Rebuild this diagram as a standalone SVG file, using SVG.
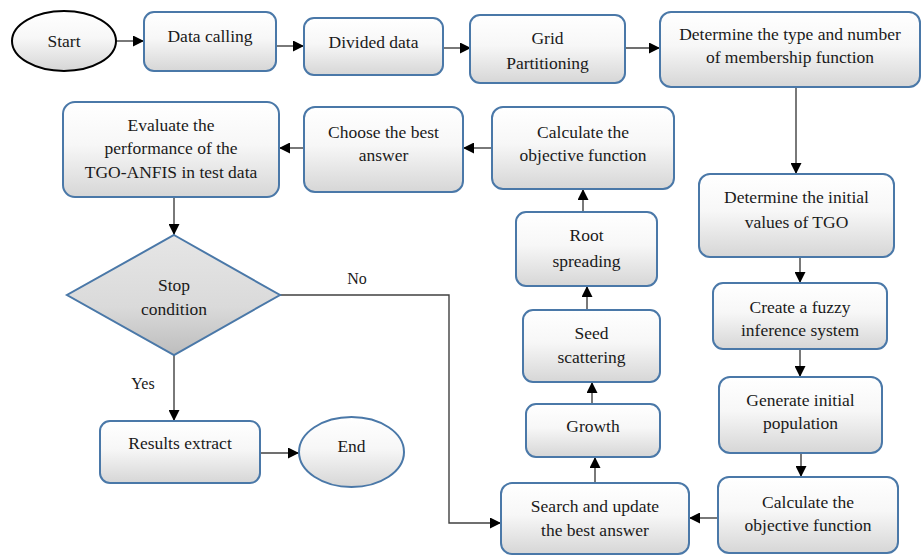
<svg xmlns="http://www.w3.org/2000/svg" width="922" height="556" viewBox="0 0 922 556">
  <defs>
    <linearGradient id="boxFill" x1="0" y1="0" x2="0" y2="1">
      <stop offset="0" stop-color="#ffffff"/>
      <stop offset="0.45" stop-color="#f7f7f7"/>
      <stop offset="1" stop-color="#d6d6d6"/>
    </linearGradient>
    <linearGradient id="diamondFill" x1="0" y1="0" x2="0" y2="1">
      <stop offset="0" stop-color="#e6e6e6"/>
      <stop offset="0.6" stop-color="#dadada"/>
      <stop offset="1" stop-color="#bdbdbd"/>
    </linearGradient>
    <marker id="arrow" viewBox="0 0 10 10" refX="10" refY="5" markerWidth="11" markerHeight="11" markerUnits="userSpaceOnUse" orient="auto">
      <path d="M0,0 L10,5 L0,10 Z" fill="#000"/>
    </marker>
  </defs>
  <style>
    .box { fill: url(#boxFill); stroke: #4a78a8; stroke-width: 2; }
    .dia { fill: url(#diamondFill); stroke: #4a78a8; stroke-width: 2; }
    .term { fill: url(#boxFill); stroke: #000; stroke-width: 2; }
    .termb { fill: url(#boxFill); stroke: #4a78a8; stroke-width: 2; }
    .lbl { font-size: 17.5px; fill: #1a1a1a; text-anchor: middle; }
    .small { font-size: 16px; }
    .conn path { fill: none; stroke: #404040; stroke-width: 1.4; marker-end: url(#arrow); }
  </style>

  <rect width="922" height="556" fill="#fff"/>

  <!-- connectors -->
  <g class="conn">
    <path d="M116,41 H144"/>
    <path d="M276,46 H304"/>
    <path d="M443,48 H471"/>
    <path d="M625,48 H660"/>
    <path d="M796,87 V174"/>
    <path d="M800,257 V283"/>
    <path d="M800,349 V377"/>
    <path d="M801,453 V477"/>
    <path d="M718,518 H689"/>
    <path d="M595,483 V457"/>
    <path d="M592,404 V382"/>
    <path d="M587,310 V286"/>
    <path d="M583,212 V189"/>
    <path d="M492,148 H463"/>
    <path d="M304,148 H279"/>
    <path d="M174,197 V235"/>
    <path d="M280,295 H449 V523 H501"/>
    <path d="M174,355 V421"/>
    <path d="M260,453 H299"/>
  </g>

  <g font-family="'Liberation Serif', 'DejaVu Serif', 'Times New Roman', serif">
  <g id="start">
    <ellipse class="term" cx="64" cy="41" rx="52" ry="30"/>
    <text class="lbl" x="64" y="47">Start</text>
  </g>
  <g id="data-calling">
    <rect class="box" x="144" y="12" width="132" height="59" rx="10"/>
    <text class="lbl" x="210" y="42">Data calling</text>
  </g>
  <g id="divided-data">
    <rect class="box" x="304" y="18" width="139" height="57" rx="10"/>
    <text class="lbl" x="373.5" y="48">Divided data</text>
  </g>
  <g id="grid-partitioning">
    <rect class="box" x="470" y="15" width="155" height="68" rx="10"/>
    <text class="lbl" x="547.5" y="44">Grid</text>
    <text class="lbl" x="547.5" y="69">Partitioning</text>
  </g>
  <g id="membership-function">
    <rect class="box" x="660" y="12" width="260" height="75" rx="11"/>
    <text class="lbl" x="790" y="40">Determine the type and number</text>
    <text class="lbl" x="790" y="63">of membership function</text>
  </g>
  <g id="initial-values">
    <rect class="box" x="699" y="174" width="195" height="83" rx="11"/>
    <text class="lbl" x="796.5" y="203">Determine the initial</text>
    <text class="lbl" x="796.5" y="228">values of TGO</text>
  </g>
  <g id="fuzzy-system">
    <rect class="box" x="713" y="283" width="174" height="66" rx="10"/>
    <text class="lbl" x="800" y="313">Create a fuzzy</text>
    <text class="lbl" x="800" y="336">inference system</text>
  </g>
  <g id="initial-population">
    <rect class="box" x="719" y="377" width="163" height="76" rx="11"/>
    <text class="lbl" x="800.5" y="406">Generate initial</text>
    <text class="lbl" x="800.5" y="429">population</text>
  </g>
  <g id="objective-1">
    <rect class="box" x="718" y="477" width="180" height="76" rx="11"/>
    <text class="lbl" x="808" y="508">Calculate the</text>
    <text class="lbl" x="808" y="531">objective function</text>
  </g>
  <g id="search-update">
    <rect class="box" x="501" y="483" width="188" height="71" rx="11"/>
    <text class="lbl" x="595" y="512">Search and update</text>
    <text class="lbl" x="595" y="536">the best answer</text>
  </g>
  <g id="growth">
    <rect class="box" x="526" y="404" width="134" height="53" rx="10"/>
    <text class="lbl" x="593" y="432">Growth</text>
  </g>
  <g id="seed-scattering">
    <rect class="box" x="523" y="310" width="137" height="72" rx="10"/>
    <text class="lbl" x="591.5" y="339">Seed</text>
    <text class="lbl" x="591.5" y="363">scattering</text>
  </g>
  <g id="root-spreading">
    <rect class="box" x="516" y="212" width="141" height="74" rx="10"/>
    <text class="lbl" x="586.5" y="241">Root</text>
    <text class="lbl" x="586.5" y="267">spreading</text>
  </g>
  <g id="objective-2">
    <rect class="box" x="492" y="107" width="182" height="82" rx="11"/>
    <text class="lbl" x="583" y="138">Calculate the</text>
    <text class="lbl" x="583" y="161">objective function</text>
  </g>
  <g id="best-answer">
    <rect class="box" x="304" y="107" width="159" height="85" rx="11"/>
    <text class="lbl" x="383.5" y="138">Choose the best</text>
    <text class="lbl" x="383.5" y="161">answer</text>
  </g>
  <g id="evaluate">
    <rect class="box" x="63" y="102" width="216" height="95" rx="12"/>
    <text class="lbl" x="171" y="131">Evaluate the</text>
    <text class="lbl" x="171" y="154">performance of the</text>
    <text class="lbl" x="171" y="178">TGO-ANFIS in test data</text>
  </g>
  <g id="stop-condition">
    <polygon class="dia" points="174,235 280,295 174,355 67,295"/>
    <text class="lbl" x="174" y="291">Stop</text>
    <text class="lbl" x="174" y="315">condition</text>
  </g>
  <g id="labels">
    <text class="lbl small" x="357" y="284">No</text>
    <text class="lbl small" x="143" y="389">Yes</text>
  </g>
  <g id="results-extract">
    <rect class="box" x="100" y="421" width="160" height="62" rx="10"/>
    <text class="lbl" x="180" y="449">Results extract</text>
  </g>
  <g id="end">
    <ellipse class="termb" cx="351.5" cy="452" rx="52.5" ry="35"/>
    <text class="lbl" x="351.5" y="452">End</text>
  </g>
  </g>
</svg>
